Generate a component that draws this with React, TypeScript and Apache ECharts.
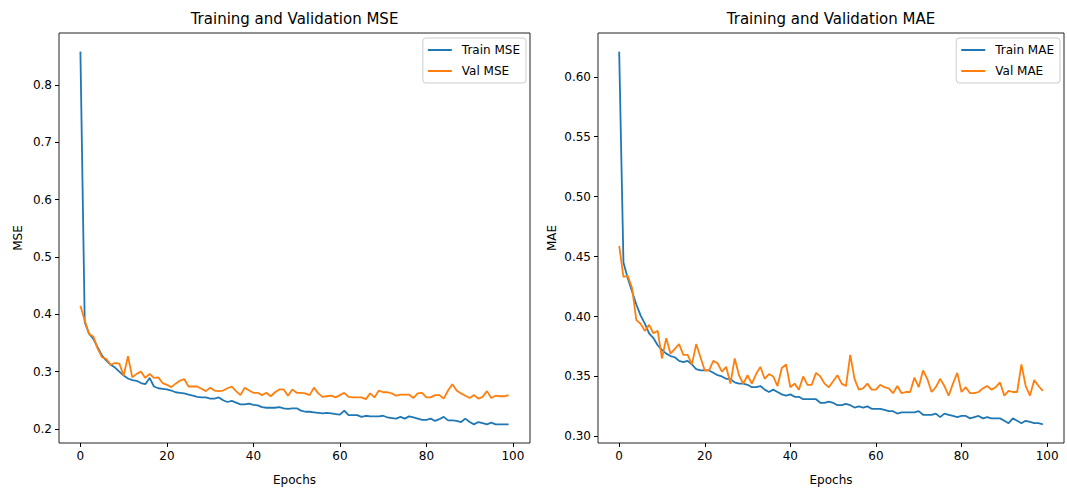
import React, { useEffect, useRef } from "react";
import * as echarts from "echarts";

const epochs: number[] = Array.from({ length: 100 }, (_, i) => i);

const trainMse: number[] = [
  0.858, 0.386, 0.366, 0.357, 0.342, 0.328, 0.319, 0.312, 0.307, 0.300,
  0.293, 0.288, 0.285, 0.284, 0.280, 0.278, 0.289, 0.274, 0.271, 0.270,
  0.269, 0.267, 0.264, 0.263, 0.262, 0.260, 0.258, 0.256, 0.255, 0.255,
  0.253, 0.253, 0.255, 0.250, 0.247, 0.249, 0.246, 0.243, 0.243, 0.244,
  0.242, 0.241, 0.238, 0.237, 0.237, 0.237, 0.238, 0.236, 0.235, 0.236,
  0.236, 0.232, 0.230, 0.230, 0.229, 0.228, 0.227, 0.228, 0.227, 0.226,
  0.225, 0.232, 0.224, 0.224, 0.224, 0.221, 0.223, 0.222, 0.222, 0.222,
  0.223, 0.220, 0.219, 0.218, 0.221, 0.218, 0.222, 0.220, 0.218, 0.216,
  0.216, 0.218, 0.214, 0.217, 0.221, 0.215, 0.215, 0.214, 0.212, 0.218,
  0.212, 0.208, 0.212, 0.210, 0.208, 0.211, 0.208, 0.208, 0.208, 0.208,
];

const valMse: number[] = [
  0.415, 0.389, 0.366, 0.361, 0.340, 0.325, 0.322, 0.312, 0.315, 0.314,
  0.293, 0.327, 0.290, 0.296, 0.300, 0.289, 0.296, 0.289, 0.290, 0.280,
  0.277, 0.273, 0.279, 0.284, 0.287, 0.274, 0.274, 0.274, 0.270, 0.266,
  0.272, 0.267, 0.266, 0.267, 0.271, 0.274, 0.266, 0.259, 0.272, 0.267,
  0.263, 0.263, 0.259, 0.263, 0.257, 0.264, 0.269, 0.269, 0.258, 0.269,
  0.263, 0.263, 0.262, 0.259, 0.272, 0.262, 0.256, 0.257, 0.258, 0.255,
  0.259, 0.263, 0.256, 0.255, 0.255, 0.255, 0.252, 0.262, 0.255, 0.267,
  0.264, 0.264, 0.262, 0.258, 0.260, 0.260, 0.260, 0.254, 0.262, 0.263,
  0.255, 0.255, 0.259, 0.259, 0.253, 0.267, 0.278, 0.267, 0.262, 0.258,
  0.254, 0.259, 0.253, 0.256, 0.266, 0.254, 0.258, 0.257, 0.257, 0.259,
];

const trainMae: number[] = [
  0.621, 0.445, 0.432, 0.421, 0.410, 0.401, 0.394, 0.386, 0.382, 0.376,
  0.372, 0.369, 0.367, 0.366, 0.363, 0.362, 0.363, 0.360, 0.356, 0.355,
  0.355, 0.355, 0.353, 0.351, 0.350, 0.348, 0.348, 0.345, 0.344, 0.344,
  0.343, 0.341, 0.341, 0.342, 0.339, 0.337, 0.339, 0.337, 0.335, 0.334,
  0.335, 0.333, 0.333, 0.331, 0.331, 0.331, 0.331, 0.328, 0.328, 0.329,
  0.328, 0.326, 0.326, 0.327, 0.326, 0.324, 0.325, 0.324, 0.325, 0.323,
  0.323, 0.323, 0.322, 0.321, 0.321, 0.319, 0.320, 0.320, 0.320, 0.320,
  0.321, 0.318, 0.318, 0.318, 0.319, 0.316, 0.319, 0.318, 0.317, 0.316,
  0.317, 0.317, 0.315, 0.316, 0.317, 0.315, 0.316, 0.315, 0.315, 0.315,
  0.313, 0.311, 0.315, 0.313, 0.311, 0.313, 0.312, 0.311, 0.311, 0.310,
];

const valMae: number[] = [
  0.459, 0.433, 0.434, 0.424, 0.397, 0.394, 0.388, 0.393, 0.386, 0.388,
  0.365, 0.382, 0.369, 0.373, 0.377, 0.368, 0.368, 0.360, 0.377, 0.366,
  0.355, 0.355, 0.363, 0.361, 0.354, 0.358, 0.344, 0.365, 0.351, 0.344,
  0.351, 0.344, 0.352, 0.358, 0.348, 0.352, 0.350, 0.342, 0.357, 0.360,
  0.341, 0.344, 0.339, 0.350, 0.343, 0.343, 0.353, 0.350, 0.344, 0.341,
  0.346, 0.351, 0.344, 0.342, 0.368, 0.348, 0.339, 0.340, 0.344, 0.339,
  0.339, 0.343, 0.341, 0.340, 0.336, 0.342, 0.336, 0.337, 0.337, 0.349,
  0.341, 0.355, 0.348, 0.337, 0.341, 0.348, 0.342, 0.334, 0.344, 0.353,
  0.337, 0.341, 0.336, 0.336, 0.337, 0.340, 0.342, 0.339, 0.341, 0.345,
  0.334, 0.338, 0.337, 0.337, 0.360, 0.342, 0.334, 0.347, 0.342, 0.338,
];

const xTicks: number[] = [0, 20, 40, 60, 80, 100];
const mseTicks: number[] = [0.2, 0.3, 0.4, 0.5, 0.6, 0.7, 0.8];
const maeTicks: number[] = [0.3, 0.35, 0.4, 0.45, 0.5, 0.55, 0.6];

const FONT = "DejaVu Sans";
const BLUE = "#1f77b4";
const ORANGE = "#ff7f0e";
const TXT = "#000000";

function padRange(arrs: number[][]): [number, number] {
  const all = arrs.flat();
  const lo = Math.min(...all);
  const hi = Math.max(...all);
  const m = (hi - lo) * 0.05;
  return [lo - m, hi + m];
}

export default function App() {
  const ref = useRef<HTMLDivElement>(null);

  useEffect(() => {
    if (!ref.current) return;
    const chart = echarts.init(ref.current, undefined, { renderer: "svg" });

    const [mseMin, mseMax] = padRange([trainMse, valMse]);
    const [maeMin, maeMax] = padRange([trainMae, valMae]);
    const span = epochs[epochs.length - 1] - epochs[0];
    const xMin = epochs[0] - span * 0.05;
    const xMax = epochs[epochs.length - 1] + span * 0.05;

    const grids = [
      { left: 59, top: 33, width: 471, height: 414 },
      { left: 598, top: 33, width: 466, height: 414 },
    ];

    const mkX = (gi: number) => ({
      type: "value",
      gridIndex: gi,
      min: xMin,
      max: xMax,
      axisLine: { show: false, onZero: false },
      splitLine: { show: false },
      axisTick: {
        show: true,
        length: 4,
        customValues: xTicks,
        lineStyle: { color: "#000", width: 1 },
      },
      axisLabel: {
        customValues: xTicks,
        margin: 7,
        fontSize: 12,
        color: TXT,
        fontFamily: FONT,
        formatter: (v: number) => String(v),
      },
      name: "Epochs",
      nameLocation: "middle",
      nameGap: 31,
      nameTextStyle: { fontSize: 12, color: TXT, fontFamily: FONT },
    });

    const mkY = (gi: number, min: number, max: number, ticks: number[], dec: number, name: string, gap: number) => ({
      type: "value",
      gridIndex: gi,
      min,
      max,
      axisLine: { show: false, onZero: false },
      splitLine: { show: false },
      axisTick: {
        show: true,
        length: 4,
        customValues: ticks,
        lineStyle: { color: "#000", width: 1 },
      },
      axisLabel: {
        customValues: ticks,
        margin: 7,
        fontSize: 12,
        color: TXT,
        fontFamily: FONT,
        formatter: (v: number) => v.toFixed(dec),
      },
      name,
      nameLocation: "middle",
      nameGap: gap,
      nameRotate: 90,
      nameTextStyle: { fontSize: 12, color: TXT, fontFamily: FONT },
    });

    const mkSeries = (name: string, vals: number[], color: string, gi: number) => ({
      type: "line",
      name,
      xAxisIndex: gi,
      yAxisIndex: gi,
      data: epochs.map((e, i) => [e, vals[i]]),
      showSymbol: false,
      symbol: "none",
      lineStyle: { width: 1.8, color },
      itemStyle: { color },
      emphasis: { disabled: true },
      silent: true,
    });

    const mkLegend = (names: string[], right: number) => ({
      data: names,
      orient: "vertical",
      right,
      top: 38,
      icon: "rect",
      itemWidth: 24,
      itemHeight: 2,
      itemGap: 9,
      padding: [6, 6, 6, 5],
      backgroundColor: "rgba(255,255,255,0.8)",
      borderColor: "#cccccc",
      borderWidth: 1,
      borderRadius: 3,
      selectedMode: false,
      textStyle: { fontSize: 12, color: TXT, fontFamily: FONT, padding: [0, 0, 0, 5] },
    });

    const mkTitle = (text: string, cx: number) => ({
      text,
      left: cx,
      top: 11,
      padding: 0,
      textAlign: "center",
      textStyle: { fontSize: 15, fontWeight: "normal", color: TXT, fontFamily: FONT },
    });

    chart.setOption({
      animation: false,
      backgroundColor: "#ffffff",
      textStyle: { fontFamily: FONT },
      title: [
        mkTitle("Training and Validation MSE", grids[0].left + grids[0].width / 2),
        mkTitle("Training and Validation MAE", grids[1].left + grids[1].width / 2),
      ],
      grid: grids.map((g) => ({
        ...g,
        show: true,
        borderColor: "#222222",
        borderWidth: 1,
        backgroundColor: "transparent",
        containLabel: false,
      })),
      xAxis: [mkX(0), mkX(1)],
      yAxis: [
        mkY(0, mseMin, mseMax, mseTicks, 1, "MSE", 35),
        mkY(1, maeMin, maeMax, maeTicks, 2, "MAE", 40),
      ],
      legend: [
        mkLegend(["Train MSE", "Val MSE"], 1067 - (grids[0].left + grids[0].width) + 4),
        mkLegend(["Train MAE", "Val MAE"], 1067 - (grids[1].left + grids[1].width) + 4),
      ],
      series: [
        mkSeries("Train MSE", trainMse, BLUE, 0),
        mkSeries("Val MSE", valMse, ORANGE, 0),
        mkSeries("Train MAE", trainMae, BLUE, 1),
        mkSeries("Val MAE", valMae, ORANGE, 1),
      ],
    });

    return () => chart.dispose();
  }, []);

  return (
    <div
      ref={ref}
      style={{ position: "absolute", left: 0, top: 0, width: 1067, height: 491, background: "#fff" }}
    />
  );
}
